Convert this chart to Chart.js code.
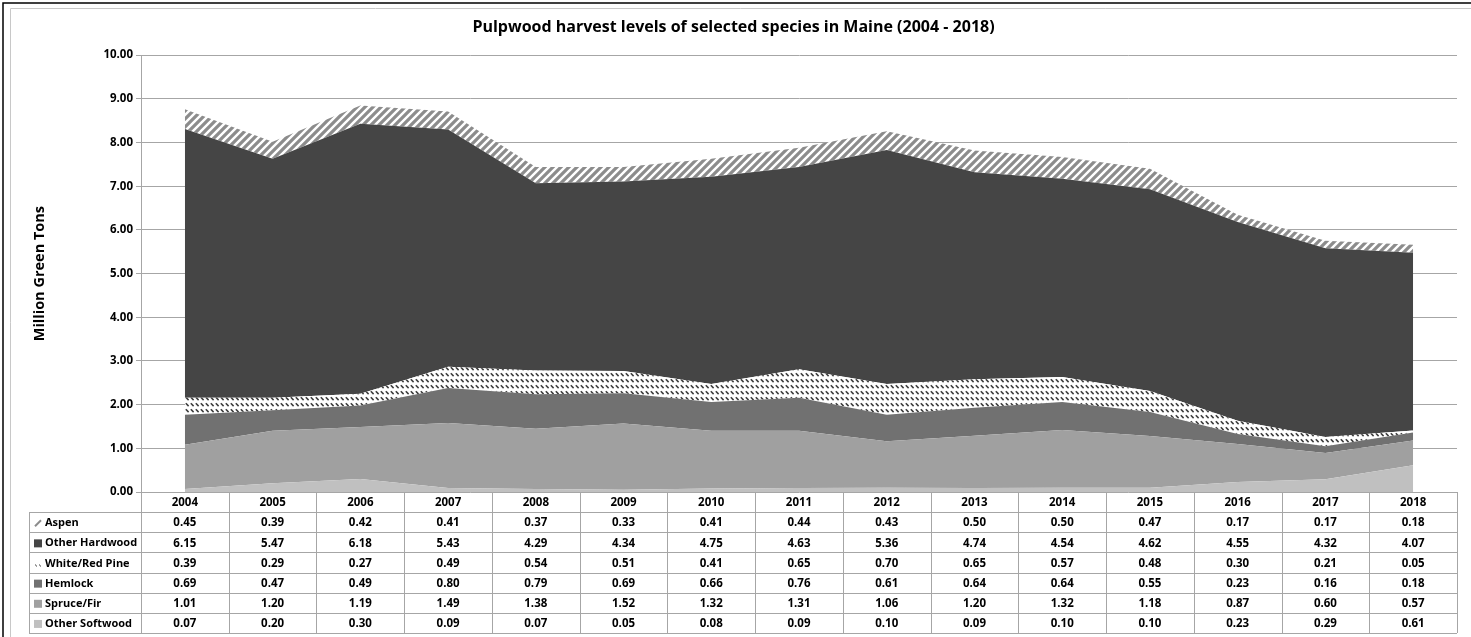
<!DOCTYPE html>
<html>
<head>
<meta charset="utf-8">
<script src="https://cdn.jsdelivr.net/npm/chart.js@4"></script>
<style>
  html, body { margin: 0; padding: 0; background: #fff; overflow: hidden; }
  #wrap { width: 1471px; height: 637px; position: relative; }
</style>
</head>
<body>
<div id="wrap"><canvas id="areaChart"></canvas></div>
<script>
const anos = ['2004', '2005', '2006', '2007', '2008', '2009', '2010', '2011', '2012', '2013', '2014', '2015', '2016', '2017', '2018'];
const otherSoftwood = [0.07, 0.20, 0.30, 0.09, 0.07, 0.05, 0.08, 0.09, 0.10, 0.09, 0.10, 0.10, 0.23, 0.29, 0.61];
const spruceFir = [1.01, 1.20, 1.19, 1.49, 1.38, 1.52, 1.32, 1.31, 1.06, 1.20, 1.32, 1.18, 0.87, 0.60, 0.57];
const hemlock = [0.69, 0.47, 0.49, 0.80, 0.79, 0.69, 0.66, 0.76, 0.61, 0.64, 0.64, 0.55, 0.23, 0.16, 0.18];
const whiteRedPine = [0.39, 0.29, 0.27, 0.49, 0.54, 0.51, 0.41, 0.65, 0.70, 0.65, 0.57, 0.48, 0.30, 0.21, 0.05];
const otherHardwood = [6.15, 5.47, 6.18, 5.43, 4.29, 4.34, 4.75, 4.63, 5.36, 4.74, 4.54, 4.62, 4.55, 4.32, 4.07];
const aspen = [0.45, 0.39, 0.42, 0.41, 0.37, 0.33, 0.41, 0.44, 0.43, 0.50, 0.50, 0.47, 0.17, 0.17, 0.18];

const fonte = '"Open Sans", Lato, sans-serif';
const corGrade = '#a6a6a6';

// hatch patterns
function listrasAspen() {
    const c = document.createElement('canvas');
    c.width = 8; c.height = 8;
    const g = c.getContext('2d');
    g.fillStyle = '#fff';
    g.fillRect(0, 0, 8, 8);
    g.strokeStyle = '#8c8c8c';
    g.lineWidth = 3.2;
    g.beginPath();
    g.moveTo(-2, 10); g.lineTo(10, -2);
    g.moveTo(-6, 6); g.lineTo(6, -6);
    g.moveTo(2, 14); g.lineTo(14, 2);
    g.stroke();
    return g.createPattern(c, 'repeat');
}

function tracosPine() {
    const c = document.createElement('canvas');
    c.width = 5; c.height = 6;
    const g = c.getContext('2d');
    g.fillStyle = '#fff';
    g.fillRect(0, 0, 5, 6);
    g.strokeStyle = '#3a3a3a';
    g.lineWidth = 1.5;
    g.beginPath();
    g.moveTo(0.8, 1.3); g.lineTo(3.6, 4.1);
    g.stroke();
    return g.createPattern(c, 'repeat');
}

const series = [
    { label: 'Other Softwood', data: otherSoftwood, cor: '#c0c0c0' },
    { label: 'Spruce/Fir', data: spruceFir, cor: '#a0a0a0' },
    { label: 'Hemlock', data: hemlock, cor: '#717171' },
    { label: 'White/Red Pine', data: whiteRedPine, cor: tracosPine() },
    { label: 'Other Hardwood', data: otherHardwood, cor: '#454545' },
    { label: 'Aspen', data: aspen, cor: listrasAspen() }
];

// draws the data table under the plot, columns taken from the x scale
const tabelaPlugin = {
    id: 'tabela',
    afterDraw(chart) {
        const ctx = chart.ctx;
        const area = chart.chartArea;
        const xs = chart.scales.x;
        const meio = (xs.getPixelForValue(1) - xs.getPixelForValue(0)) / 2;
        const topo = area.bottom;
        const fim = 633;
        const altLinha = (fim - topo) / 7;
        const esq = 29;

        ctx.save();
        // frame
        ctx.strokeStyle = '#000';
        ctx.lineWidth = 1.5;
        ctx.beginPath();
        ctx.moveTo(3, 637); ctx.lineTo(3, 3); ctx.lineTo(1471, 3);
        ctx.stroke();
        ctx.strokeStyle = '#c8c8c8';
        ctx.lineWidth = 1;
        ctx.beginPath();
        ctx.moveTo(10.5, 637); ctx.lineTo(10.5, 8.5); ctx.lineTo(1471, 8.5);
        ctx.stroke();

        ctx.strokeStyle = corGrade;
        ctx.lineWidth = 1;
        ctx.beginPath();
        for (let r = 1; r <= 7; r++) {
            const y = Math.round(topo + r * altLinha) + 0.5;
            ctx.moveTo(esq, y); ctx.lineTo(area.right, y);
        }
        for (let i = 0; i <= anos.length; i++) {
            const x = Math.round(xs.getPixelForValue(0) - meio + i * 2 * meio) + 0.5;
            ctx.moveTo(x, topo); ctx.lineTo(x, fim);
        }
        ctx.moveTo(esq + 0.5, topo + altLinha); ctx.lineTo(esq + 0.5, fim);
        ctx.stroke();

        ctx.fillStyle = '#000';
        ctx.font = 'bold 11.5px ' + fonte;
        ctx.textAlign = 'center';
        ctx.textBaseline = 'middle';
        anos.forEach((a, i) => {
            ctx.fillText(a, xs.getPixelForValue(i), topo + altLinha / 2 + 1);
        });

        const linhas = series.slice().reverse();
        linhas.forEach((s, r) => {
            const yc = topo + (r + 1.5) * altLinha + 1;
            // legend key
            ctx.fillStyle = s.cor;
            if (s.label === 'Aspen') {
                ctx.strokeStyle = '#8c8c8c';
                ctx.lineWidth = 2;
                ctx.beginPath();
                ctx.moveTo(35, yc + 3); ctx.lineTo(41, yc - 3);
                ctx.stroke();
            } else if (s.label === 'White/Red Pine') {
                ctx.fillStyle = '#404040';
                ctx.fillRect(35, yc + 1, 1, 1);
                ctx.fillRect(36, yc + 2, 1, 1);
                ctx.fillRect(39, yc + 1, 1, 1);
                ctx.fillRect(40, yc + 2, 1, 1);
            } else {
                ctx.fillRect(34, yc - 4, 8, 8);
            }
            ctx.fillStyle = '#000';
            ctx.textAlign = 'left';
            ctx.font = 'bold 11px ' + fonte;
            ctx.fillText(s.label, 45, yc);
            ctx.font = 'bold 11.5px ' + fonte;
            ctx.textAlign = 'center';
            s.data.forEach((v, i) => {
                ctx.fillText(v.toFixed(2), xs.getPixelForValue(i), yc);
            });
        });
        ctx.restore();
    }
};

const ctx = document.getElementById('areaChart').getContext('2d');

const areaChart = new Chart(ctx, {
    type: 'line',
    data: {
        labels: anos,
        datasets: series.map((s, i) => ({
            label: s.label,
            data: s.data,
            backgroundColor: s.cor,
            borderWidth: 0,
            pointRadius: 0,
            tension: 0,
            fill: i === 0 ? 'origin' : '-1'
        }))
    },
    options: {
        responsive: true,
        maintainAspectRatio: false,
        animation: false,
        layout: {
            padding: { left: 10, right: 14, top: 0, bottom: 145 }
        },
        plugins: {
            legend: { display: false },
            tooltip: { enabled: false },
            title: {
                display: true,
                text: 'Pulpwood harvest levels of selected species in Maine (2004 - 2018)',
                color: '#000',
                font: { family: fonte, size: 16, weight: 'bold' },
                padding: { top: 18, bottom: 18 }
            }
        },
        scales: {
            x: {
                display: false,
                offset: true
            },
            y: {
                stacked: true,
                min: 0,
                max: 10,
                afterFit(scale) { scale.width = 131; },
                ticks: {
                    stepSize: 1,
                    color: '#000',
                    padding: 3,
                    font: { family: fonte, size: 11.5, weight: 'bold' },
                    callback: v => v.toFixed(2)
                },
                grid: { color: corGrade, tickLength: 5 },
                border: { color: corGrade },
                title: {
                    display: true,
                    text: 'Million Green Tons',
                    color: '#000',
                    font: { family: fonte, size: 14.5, weight: 'bold' },
                    padding: { top: 21, bottom: 0 }
                }
            }
        }
    },
    plugins: [tabelaPlugin]
});
</script>
</body>
</html>
